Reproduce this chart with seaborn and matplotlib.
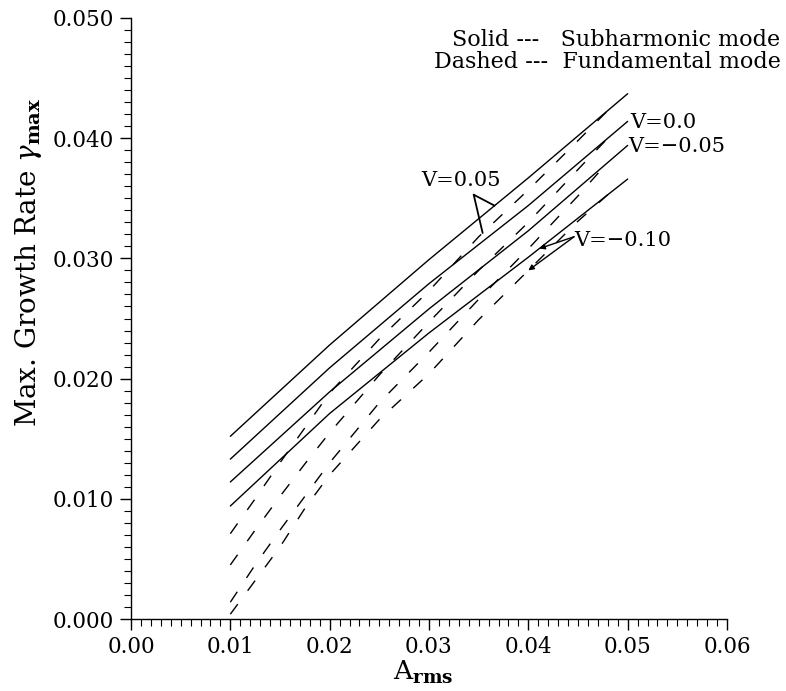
import numpy as np
import pandas as pd
import matplotlib
matplotlib.use("Agg")
import matplotlib.pyplot as plt
import seaborn as sns
from matplotlib.ticker import MultipleLocator, FormatStrFormatter

# ---- data ----
V_labels = ["V=0.05", "V=0.0", "V=\u22120.05", "V=\u22120.10"]

# Subharmonic mode (solid)
A_sub = [0.010, 0.020, 0.030, 0.040, 0.050]
sub_v005 = [0.0152, 0.0228, 0.0299, 0.0367, 0.0437]
sub_v000 = [0.0133, 0.0209, 0.0279, 0.0344, 0.0414]
sub_vm005 = [0.0114, 0.0189, 0.0258, 0.0323, 0.0394]
sub_vm010 = [0.0094, 0.0171, 0.0238, 0.0301, 0.0366]

# Fundamental mode (dashed)
A_fun = [0.010, 0.0125, 0.015, 0.0175, 0.020, 0.025, 0.030, 0.035, 0.040, 0.045, 0.048]
fun_v005 = [0.0071, 0.0100, 0.0130, 0.0159, 0.0188, 0.0233, 0.0273, 0.0318, 0.0357, 0.0398, 0.0423]
fun_v000 = [0.0045, 0.0074, 0.0102, 0.0129, 0.0155, 0.0203, 0.0247, 0.0290, 0.0330, 0.0374, 0.0400]
fun_vm005 = [0.0014, 0.0045, 0.0074, 0.0102, 0.0130, 0.0180, 0.0222, 0.0266, 0.0308, 0.0352, 0.0380]
fun_vm010 = [0.0004, 0.0032, 0.0060, 0.0092, 0.0120, 0.0166, 0.0204, 0.0249, 0.0290, 0.0331, 0.0353]

x_ticks = [0.00, 0.01, 0.02, 0.03, 0.04, 0.05, 0.06]
y_ticks = [0.000, 0.010, 0.020, 0.030, 0.040, 0.050]

sub_series = [sub_v005, sub_v000, sub_vm005, sub_vm010]
fun_series = [fun_v005, fun_v000, fun_vm005, fun_vm010]

rows = []
for lab, ys in zip(V_labels, sub_series):
    for a, g in zip(A_sub, ys):
        rows.append(dict(A=a, gamma=g, V=lab, mode="Subharmonic"))
for lab, ys in zip(V_labels, fun_series):
    for a, g in zip(A_fun, ys):
        rows.append(dict(A=a, gamma=g, V=lab, mode="Fundamental"))
df = pd.DataFrame(rows)

# ---- style ----
sns.set_theme(style="ticks")
plt.rcParams["font.family"] = ["DejaVu Serif"]
plt.rcParams["mathtext.fontset"] = "dejavuserif"
for k in ["text.color", "axes.labelcolor", "xtick.color", "ytick.color", "axes.edgecolor"]:
    plt.rcParams[k] = "black"

fig = plt.figure(figsize=(7.86, 6.91), dpi=100)
ax = fig.add_axes([131/786, 1-619/691, (727-131)/786, (619-18)/691])

for lab in V_labels:
    d = df[(df.V == lab) & (df["mode"] == "Subharmonic")]
    sns.lineplot(data=d, x="A", y="gamma", color="black", lw=1.0, ax=ax,
                 legend=False, estimator=None)
for lab in V_labels:
    d = df[(df.V == lab) & (df["mode"] == "Fundamental")]
    sns.lineplot(data=d, x="A", y="gamma", color="black", lw=1.0, ax=ax,
                 legend=False, estimator=None)
    ax.lines[-1].set_linestyle((0, (9, 12)))

ax.set_xlim(0, 0.06)
ax.set_ylim(0, 0.05)
ax.set_xticks(x_ticks)
ax.set_yticks(y_ticks)
ax.xaxis.set_major_formatter(FormatStrFormatter("%.2f"))
ax.yaxis.set_major_formatter(FormatStrFormatter("%.3f"))
ax.xaxis.set_minor_locator(MultipleLocator(0.001))
ax.yaxis.set_minor_locator(MultipleLocator(0.001))
ax.tick_params(which="major", direction="out", length=8, width=1, colors="black",
               labelsize=15.5, pad=4)
ax.tick_params(which="minor", direction="out", length=5, width=0.8, colors="black")
sns.despine(ax=ax)
for s in ["left", "bottom"]:
    ax.spines[s].set_color("black")
    ax.spines[s].set_linewidth(1.0)

ax.set_xlabel(r"A$_{\mathbf{rms}}$", fontsize=19)
ax.xaxis.set_label_coords((423-131)/596, -(659-619)/601)
ax.set_ylabel(r"Max. Growth Rate $\gamma_{\mathbf{max}}$", fontsize=20)
ax.yaxis.set_label_coords(-(131-44)/596, (619-262)/601)

# legend text (top right)
fig.text(0.993, 1-46/691, "Solid ---   Subharmonic mode", ha="right", va="baseline", fontsize=16)
fig.text(0.993, 1-68/691, "Dashed ---  Fundamental mode", ha="right", va="baseline", fontsize=16)

# annotations
def val(A, ys, a):
    return float(np.interp(a, A, ys))

fs_ann = 15
tx, ty = 0.0292, 0.0365
vx, vy = 0.0345, 0.0353
ax.text(tx, ty, V_labels[0], fontsize=fs_ann, ha="left", va="center")
for A_, ys, a in [(A_sub, sub_v005, 0.0366), (A_fun, fun_v005, 0.0354)]:
    ax.annotate("", xy=(a, val(A_, ys, a)), xytext=(vx, vy),
                arrowprops=dict(arrowstyle="-", color="black", lw=1.3, shrinkA=0, shrinkB=0))

ax.text(A_sub[-1] + 0.0003, sub_v000[-1] - 0.0001, V_labels[1], fontsize=fs_ann, ha="left", va="center")
ax.text(A_sub[-1] + 0.0001, sub_vm005[-1] - 0.0001, V_labels[2], fontsize=fs_ann, ha="left", va="center")

t4x, t4y = 0.0446, 0.0315
ax.text(t4x, t4y, V_labels[3], fontsize=fs_ann, ha="left", va="center")
for A_, ys, a in [(A_sub, sub_vm010, 0.0411), (A_fun, fun_vm010, 0.0400)]:
    ax.annotate("", xy=(a, val(A_, ys, a)), xytext=(t4x, t4y + 0.0003),
                arrowprops=dict(arrowstyle="-|>", color="black", lw=1.0,
                                mutation_scale=8, shrinkA=0, shrinkB=0))

fig.savefig("out.png", dpi=100, facecolor="white")
